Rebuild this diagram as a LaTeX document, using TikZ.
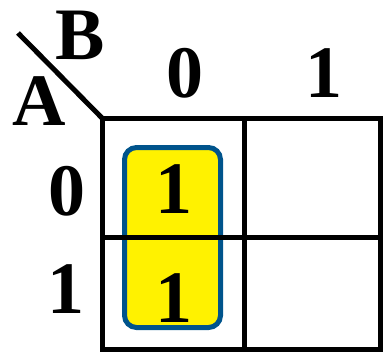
\documentclass[tikz,border=0pt]{standalone}
\usepackage{fontspec}
\setmainfont{Liberation Serif}
\usetikzlibrary{positioning}
\definecolor{loopblue}{RGB}{0,84,140}

\begin{document}
\begin{tikzpicture}[
    x=1pt, y=-1pt,
    grid/.style={line width=5pt},
    lbl/.style={font=\fontsize{74}{74}\selectfont\bfseries, inner sep=0pt},
    group/.style={draw=loopblue, line width=5pt, fill=yellow, rounded corners=12pt, inner sep=0pt}
]
\useasboundingbox (0,0) rectangle (383,351);

% group of ones
\node[group, minimum width=96pt, minimum height=180pt] (loop) at (172.5,237.5) {};

% map frame
\coordinate (nw) at (102,118);
\coordinate (ne) at (380,118);
\coordinate (sw) at (102,349);
\coordinate (se) at (380,349);
\coordinate (tm) at (244,118);
\coordinate (bm) at (244,349);
\coordinate (lm) at (102,237);
\coordinate (rm) at (380,237);
\draw[grid] (nw) rectangle (se);
\draw[grid] (tm) -- (bm);
\draw[grid] (lm) -- (rm);

% corner labels
\coordinate (slash) at (18,33);
\draw[grid] (slash) -- (nw);
\node[lbl] (varb) at (80,35) {B};
\node[lbl] (vara) at (39,101) {A};

% column and row headers
\node[lbl] (col0) at (185,73) {0};
\node[lbl] (col1) at (324,73) {1};
\node[lbl] (row0) at (67,191) {0};
\node[lbl] (row1) at (66,289) {1};

% cell values
\node[lbl] (m0) at (174,189) {1};
\node[lbl] (m1) at (174,298) {1};
\end{tikzpicture}
\end{document}
